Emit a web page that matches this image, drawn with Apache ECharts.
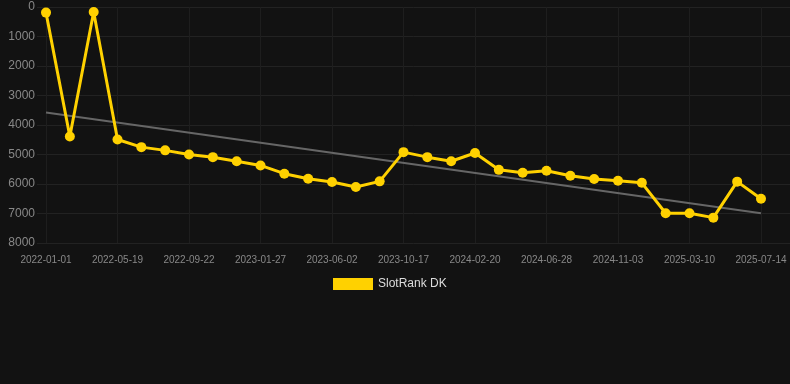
<!DOCTYPE html>
<html>
<head>
<meta charset="utf-8">
<script src="https://cdn.jsdelivr.net/npm/echarts@6/dist/echarts.min.js"></script>
<style>
html,body{margin:0;padding:0;background:#121212;}
#c{width:790px;height:384px;}
</style>
</head>
<body>
<div id="c"></div>
<script>
var categories = ["2022-01-01","2022-02-16","2022-04-03","2022-05-19","2022-06-30","2022-08-11","2022-09-22","2022-11-03","2022-12-15","2023-01-27","2023-03-10","2023-04-21","2023-06-02","2023-07-17","2023-09-01","2023-10-17","2023-11-28","2024-01-09","2024-02-20","2024-04-02","2024-05-16","2024-06-28","2024-08-10","2024-09-22","2024-11-03","2024-12-15","2025-01-27","2025-03-10","2025-04-21","2025-06-02","2025-07-14"];
var rankValues = [190,4390,170,4490,4750,4860,5000,5090,5230,5370,5650,5820,5930,6100,5910,4920,5090,5230,4950,5520,5620,5550,5720,5830,5890,5960,6990,6990,7140,5920,6500];
var labelIndices = [0,3,6,9,12,15,18,21,24,27,30];
var trendStart = 3580;
var trendEnd = 6990;
var seriesName = "SlotRank DK";

var points = rankValues.map(function(v, i){ return [i, v]; });
var font = 'Liberation Sans, Arial, sans-serif';

var chart = echarts.init(document.getElementById('c'), null, {renderer:'canvas'});
chart.setOption({
  backgroundColor: '#121212',
  animation: false,
  grid: {left: 37, right: 0, top: 7, bottom: 141},
  legend: {
    data: [seriesName],
    top: 273,
    left: 328,
    itemWidth: 40,
    itemHeight: 12,
    itemGap: 5,
    icon: 'rect',
    textStyle: {color: '#ddd', fontSize: 12, fontFamily: font}
  },
  xAxis: {
    type: 'value',
    min: -0.378,
    max: 31.217,
    axisLine: {show: false},
    axisTick: {show: false, customValues: labelIndices},
    axisLabel: {
      customValues: labelIndices,
      color: '#888', fontSize: 10, margin: 12, fontFamily: font,
      formatter: function(v){ return categories[Math.round(v)] || ''; }
    },
    splitLine: {show: true, lineStyle: {color: '#1e1e1e', width: 1}}
  },
  yAxis: {
    type: 'value',
    inverse: true,
    min: 0,
    max: 8000,
    interval: 1000,
    axisLine: {show: false},
    axisTick: {show: false},
    axisLabel: {color: '#888', fontSize: 12, margin: 2, fontFamily: font, formatter: function(v){ return String(v); }},
    splitLine: {show: true, lineStyle: {color: '#222', width: 1}}
  },
  series: [
    {
      name: 'trend',
      type: 'line',
      data: [[0, trendStart], [categories.length - 1, trendEnd]],
      symbol: 'none',
      lineStyle: {color: '#666', width: 2},
      silent: true,
      z: 1
    },
    {
      name: seriesName,
      type: 'line',
      data: points,
      symbol: 'circle',
      symbolSize: 10,
      itemStyle: {color: '#ffd100'},
      lineStyle: {color: '#ffd100', width: 3},
      z: 3
    }
  ]
});
</script>
</body>
</html>
